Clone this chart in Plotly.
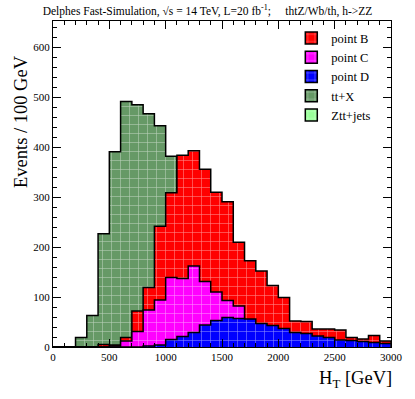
import plotly.graph_objects as go

# bin left edges, 100 GeV wide, 0..3000
bin_lo = list(range(0, 3000, 100))
bin_w = 100

tt_x = [0, 0, 19, 63, 227, 391, 492, 485, 467, 443, 382,
        0, 0, 0, 0, 0, 0, 0, 0, 0, 0, 0, 0, 0, 0, 0, 0, 0, 0, 0]
point_b = [0, 0, 0, 0, 5, 4, 19, 72, 119, 242, 309, 384, 393, 356, 310,
           291, 210, 173, 152, 123, 99, 52, 51, 36, 36, 34, 19, 16, 23, 12]
point_c = [0, 0, 0, 0, 0, 2, 12, 31, 74, 94, 139, 137, 162, 131, 110,
           93, 82, 45, 38, 34, 30, 22, 20, 16, 14, 10, 9, 8, 6, 5]
point_d = [0, 0, 0, 0, 0, 0, 0, 0, 2, 4, 15, 21, 29, 44, 53,
           59, 57, 56, 47, 43, 37, 29, 27, 22, 19, 14, 13, 11, 9, 7]
ztt_jets = [0] * 30

serif = "Liberation Serif, Times New Roman, DejaVu Serif, serif"

fig = go.Figure()


def hatch(color):
    return dict(shape="+", fgcolor="white", fgopacity=0.55, bgcolor=color,
                size=9, solidity=0.12)


def add_hist(vals, name, color, rank):
    # ROOT-style histogram: step outline filled down to zero
    xs, ys = [bin_lo[0]], [0]
    for lo, v in zip(bin_lo, vals):
        xs += [lo, lo + bin_w]
        ys += [v, v]
    xs.append(bin_lo[-1] + bin_w)
    ys.append(0)
    fig.add_trace(go.Scatter(
        x=xs, y=ys, name=name, mode="lines", showlegend=False,
        line=dict(color="black", width=1.5, simplify=False),
        fill="toself", fillcolor=color, fillpattern=hatch(color),
    ))
    # legend entry only (square swatch with black border like ROOT)
    fig.add_trace(go.Bar(
        x=[None], y=[None], name=name, legendrank=rank,
        marker=dict(color=color, line=dict(color="black", width=1.5),
                    pattern=hatch(color)),
    ))


add_hist(tt_x, "tt+X", "#669966", 4)
add_hist(ztt_jets, "Ztt+jets", "#99ff99", 5)
add_hist(point_b, "point B", "#ff0000", 1)
add_hist(point_c, "point C", "#ff00ff", 2)
add_hist(point_d, "point D", "#0000ff", 3)

fig.update_layout(
    width=415, height=399,
    margin=dict(l=53, r=21, t=21, b=52),
    paper_bgcolor="white", plot_bgcolor="white",
    font=dict(family=serif, size=11, color="black"),
    showlegend=True,
    legend=dict(x=0.705, y=0.993, xanchor="left", yanchor="top",
                font=dict(family=serif, size=12.5), bgcolor="rgba(0,0,0,0)",
                tracegroupgap=0, itemwidth=30, traceorder="normal"),
    title=dict(text="Delphes Fast-Simulation, \u221as = 14 TeV, L=20 fb<sup>-1</sup>;     thtZ/Wb/th, h->ZZ",
               x=0.5, xanchor="center", y=0.972, yanchor="middle",
               font=dict(family=serif, size=11.5)),
)

fig.update_xaxes(
    range=[0, 3000], showgrid=False, zeroline=False,
    showline=True, linecolor="black", linewidth=1, mirror="allticks",
    ticks="inside", ticklen=8, tickcolor="black", dtick=500, tick0=0,
    minor=dict(ticks="inside", ticklen=4, dtick=100, tickcolor="black"),
    tickfont=dict(family=serif, size=11),
)
fig.update_yaxes(
    range=[0, 653], showgrid=False, zeroline=False,
    showline=True, linecolor="black", linewidth=1, mirror="allticks",
    ticks="inside", ticklen=8, tickcolor="black", dtick=100, tick0=0,
    minor=dict(ticks="inside", ticklen=4, dtick=20, tickcolor="black"),
    tickfont=dict(family=serif, size=11),
)

fig.add_annotation(text="Events / 100 GeV", xref="paper", yref="paper",
                   x=-0.095, y=0.903, xanchor="center", yanchor="top",
                   textangle=-90, showarrow=False,
                   font=dict(family=serif, size=18.5))
fig.add_annotation(text="H<sub>T</sub> [GeV]", xref="paper", yref="paper",
                   x=1.01, y=-0.1, xanchor="right", yanchor="middle",
                   showarrow=False, font=dict(family=serif, size=18.5))

# page body has an 8px default margin; drop it so the figure sits at (0, 0)
fig.write_html("out.html", config={"displayModeBar": False},
               post_script="document.body.style.margin='0px';")
